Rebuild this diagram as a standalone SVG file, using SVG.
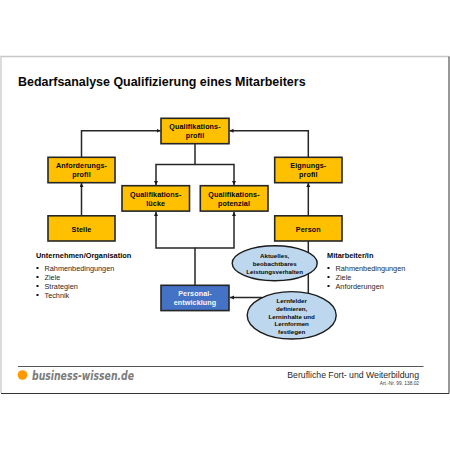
<svg xmlns="http://www.w3.org/2000/svg" width="450" height="450" viewBox="0 0 450 450">
<style>
text{font-family:"Liberation Sans",Arial,sans-serif;fill:#000;opacity:.97}
.box{fill:#ffc000;stroke:#262626;stroke-width:1.6}
.blue{fill:#4472c4;stroke:#262626;stroke-width:1.6}
.ell{fill:#bdd7ee;stroke:#1a1a1a;stroke-width:1.4}
.t{font-size:7.2px;font-weight:700;text-anchor:middle;letter-spacing:.1px}
.e{font-size:6.2px;font-weight:700;text-anchor:middle}
.l{font-size:7.3px;fill:#222}
.h{font-size:7.4px;font-weight:700}
.c{fill:none;stroke:#262626;stroke-width:1.5}
</style>
<defs><marker id="a" markerUnits="userSpaceOnUse" markerWidth="5" markerHeight="5" refX="4" refY="2" orient="auto"><path d="M0 0L4 2L0 4Z" fill="#1a1a1a"/></marker></defs>
<rect width="450" height="450" fill="#fff"/>
<g id="frame"><path d="M1 393V56.500H449" fill="none" stroke="#c8c8c8" stroke-width="1.300"/><path d="M449 56.500V393.500H1" fill="none" stroke="#333" stroke-width="1"/></g>
<text x="18" y="85.500" font-size="12.450" font-weight="700">Bedarfsanalyse Qualifizierung eines Mitarbeiters</text>
<g id="connectors">
<path class="c" marker-end="url(#a)" d="M81.500 157V130.700H160.500"/>
<path class="c" marker-end="url(#a)" d="M308.300 157V130.700H229.500"/>
<path class="c" marker-end="url(#a)" d="M81.500 215.500V183"/>
<path class="c" marker-end="url(#a)" d="M308.300 215.500V183"/>
<path class="c" marker-end="url(#a)" d="M195 144V164.500H156V185"/>
<path class="c" marker-end="url(#a)" d="M195 164.500H234V185"/>
<path class="c" marker-end="url(#a)" d="M195 285V248H156V212"/>
<path class="c" marker-end="url(#a)" d="M195 248H234V212"/>
<path class="c" d="M308.300 241V293"/>
<path class="c" marker-end="url(#a)" d="M262 297.500H230"/>
</g>
<g id="qualifikationsprofil"><rect class="box" x="161" y="118.300" width="68" height="25.400"/><text class="t" x="195" y="129">Qualifikations-</text><text class="t" x="195" y="138">profil</text></g>
<g id="anforderungsprofil"><rect class="box" x="48" y="157.300" width="67" height="25.400"/><text class="t" x="81.500" y="168">Anforderungs-</text><text class="t" x="81.500" y="177">profil</text></g>
<g id="stelle"><rect class="box" x="48" y="215.800" width="67" height="25.200"/><text class="t" x="81.500" y="231.500">Stelle</text></g>
<g id="luecke"><rect class="box" x="122" y="185.700" width="67.500" height="25.400"/><text class="t" x="155.700" y="197">Qualifikations-</text><text class="t" x="155.700" y="206">lücke</text></g>
<g id="potenzial"><rect class="box" x="200.300" y="185.700" width="67.700" height="25.400"/><text class="t" x="234" y="197">Qualifikations-</text><text class="t" x="234" y="206">potenzial</text></g>
<g id="eignungsprofil"><rect class="box" x="274.700" y="157.300" width="67.300" height="25.400"/><text class="t" x="308.300" y="168">Eignungs-</text><text class="t" x="308.300" y="177">profil</text></g>
<g id="person"><rect class="box" x="274.700" y="215.800" width="67.300" height="25.200"/><text class="t" x="308.300" y="231.500">Person</text></g>
<g id="personalentwicklung"><rect class="blue" x="161" y="285.300" width="68" height="25.300"/><text class="t" x="195" y="296" style="fill:#fff">Personal-</text><text class="t" x="195" y="305" style="fill:#fff">entwicklung</text></g>
<g id="verhalten"><ellipse class="ell" cx="274.700" cy="263.200" rx="42.500" ry="17.500"/><text class="e" x="274.700" y="257.500">Aktuelles,</text><text class="e" x="274.700" y="265.500">beobachtbares</text><text class="e" x="274.700" y="273.500">Leistungsverhalten</text></g>
<g id="lernfelder"><ellipse class="ell" cx="291.700" cy="315.300" rx="44.500" ry="23.700"/><text class="e" x="291.700" y="303">Lernfelder</text><text class="e" x="291.700" y="310.800">definieren,</text><text class="e" x="291.700" y="318.500">Lerninhalte und</text><text class="e" x="291.700" y="326">Lernformen</text><text class="e" x="291.700" y="333.800">festlegen</text></g>
<g id="links-liste"><text class="h" x="36" y="257.500">Unternehmen/Organisation</text>
<rect x="36.500" y="267" width="2" height="2" fill="#111"/><rect x="36.500" y="276" width="2" height="2" fill="#111"/><rect x="36.500" y="285" width="2" height="2" fill="#111"/><rect x="36.500" y="294" width="2" height="2" fill="#111"/>
<text class="l" x="44.500" y="271">Rahmenbedingungen</text><text class="l" x="44.500" y="280">Ziele</text><text class="l" x="44.500" y="289">Strategien</text><text class="l" x="44.500" y="298">Technik</text></g>
<g id="rechts-liste"><text class="h" x="327" y="257.500">Mitarbeiter/in</text>
<rect x="327.500" y="267" width="2" height="2" fill="#111"/><rect x="327.500" y="276" width="2" height="2" fill="#111"/><rect x="327.500" y="285" width="2" height="2" fill="#111"/>
<text class="l" x="335.500" y="271">Rahmenbedingungen</text><text class="l" x="335.500" y="280">Ziele</text><text class="l" x="335.500" y="289">Anforderungen</text></g>
<g id="footer"><path d="M18 366.500H423.500" stroke="#555" stroke-width="1"/><circle cx="22.500" cy="375" r="4.800" fill="#f90"/>
<text x="32" y="380" font-size="13" font-weight="700" font-style="italic" style="font-family:'DejaVu Sans',sans-serif;fill:#777" textLength="102" lengthAdjust="spacingAndGlyphs">business-wissen.de</text>
<text x="419" y="377.500" font-size="8.700" text-anchor="end" style="fill:#222">Berufliche Fort- und Weiterbildung</text>
<text x="419" y="384.500" font-size="4.800" text-anchor="end" style="fill:#333">Art.-Nr. 99. 138.02</text></g>
</svg>
